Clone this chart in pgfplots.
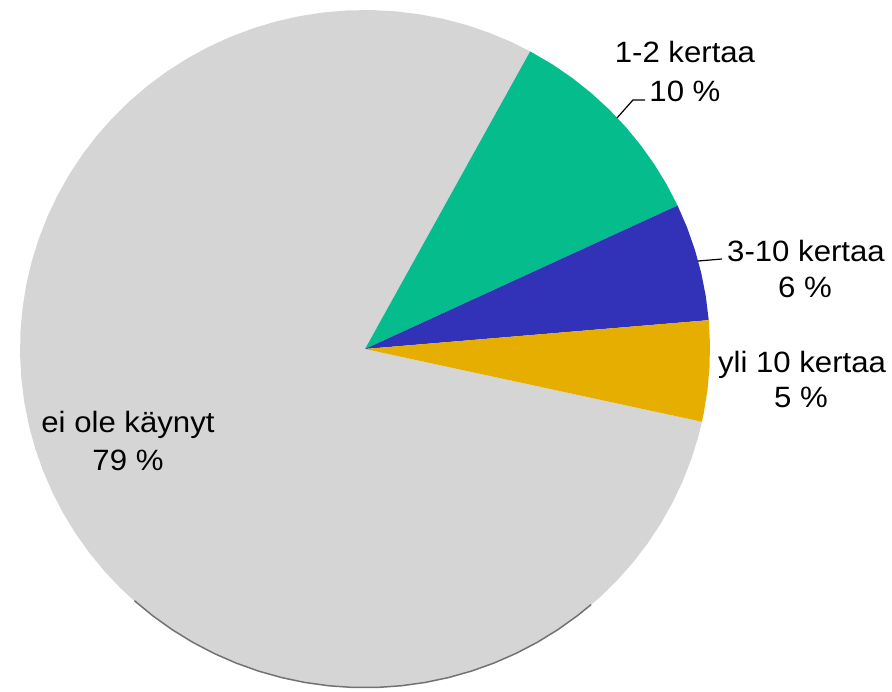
\documentclass[border=0pt]{standalone}
\usepackage{fontspec}
\setmainfont{Liberation Sans}[FakeStretch=1.06]
\usepackage{pgfplots}
\pgfplotsset{compat=1.18}
\definecolor{cgray}{RGB}{213,213,213}
\definecolor{cgreen}{RGB}{5,188,140}
\definecolor{cblue}{RGB}{50,50,185}
\definecolor{cgold}{RGB}{229,174,0}
\tikzset{lab/.style={anchor=base, inner sep=0pt, font=\fontsize{29.5}{36}\selectfont, text=black}}
\begin{document}
\begin{tikzpicture}
\begin{axis}[scale only axis, width=892bp, height=692bp,
  xmin=-1.0580, xmax=1.5275, ymin=-1.0118, ymax=1.0295,
  hide axis, clip=false]
% ei ole kaynyt 79.5 %
\addplot[data cs=polar, draw=none, fill=cgray] coordinates {
(0,0) (61.4,1) (65,1) (69,1) (73,1) (77,1) (81,1) (85,1) (89,1) (93,1) (97,1) (101,1)
(105,1) (109,1) (113,1) (117,1) (121,1) (125,1) (129,1) (133,1) (137,1) (141,1)
(145,1) (149,1) (153,1) (157,1) (161,1) (165,1) (169,1) (173,1) (177,1) (181,1)
(185,1) (189,1) (193,1) (197,1) (201,1) (205,1) (209,1) (213,1) (217,1) (221,1)
(225,1) (229,1) (233,1) (237,1) (241,1) (245,1) (249,1) (253,1) (257,1) (261,1)
(265,1) (269,1) (273,1) (277,1) (281,1) (285,1) (289,1) (293,1) (297,1) (301,1)
(305,1) (309,1) (313,1) (317,1) (321,1) (325,1) (329,1) (333,1) (337,1) (341,1)
(345,1) (347.6,1)};
% 1-2 kertaa 10.1 %
\addplot[data cs=polar, draw=none, fill=cgreen] coordinates {
(0,0) (61.4,1) (57,1) (53,1) (49,1) (45,1) (41,1) (37,1) (33,1) (29,1) (25.04,1)};
% 3-10 kertaa 5.6 %
\addplot[data cs=polar, draw=none, fill=cblue] coordinates {
(0,0) (25.04,1) (21,1) (17,1) (13,1) (9,1) (4.88,1)};
% yli 10 kertaa 4.8 %
\addplot[data cs=polar, draw=none, fill=cgold] coordinates {
(0,0) (4.88,1) (1,1) (-3,1) (-7,1) (-11,1) (-12.4,1)};
% shadow edge
\addplot[data cs=polar, draw=black!62, line width=1.5bp, opacity=0.85] coordinates {
(228,0.999) (232,0.999) (236,0.999) (240,0.999) (244,0.999) (248,0.999) (252,0.999)
(256,0.999) (260,0.999) (264,0.999) (268,0.999) (272,0.999) (276,0.999) (280,0.999)
(284,0.999) (288,0.999) (292,0.999) (296,0.999) (300,0.999) (304,0.999) (308,0.999) (311,0.999)};
% labels
\node[lab] at (axis description cs:0.7679,0.9090) {1-2 kertaa};
\node[lab] at (axis description cs:0.7679,0.8540) {10 \%};
\node[lab] at (axis description cs:0.9036,0.6214) {3-10 kertaa};
\node[lab] at (axis description cs:0.9025,0.5694) {6 \%};
\node[lab] at (axis description cs:0.8991,0.4624) {yli 10 kertaa};
\node[lab] at (axis description cs:0.8980,0.4118) {5 \%};
\node[lab] at (axis description cs:0.1435,0.3743) {ei ole käynyt};
\node[lab] at (axis description cs:0.1435,0.3194) {79 \%};
% leader lines
\draw[black, line width=1.2bp] (axis description cs:0.6917,0.8295) -- (axis description cs:0.7096,0.8555) -- (axis description cs:0.7231,0.8555);
\draw[black, line width=1.2bp] (axis description cs:0.7825,0.6228) -- (axis description cs:0.8094,0.6257);
\end{axis}
\path (current axis.south west) rectangle (current axis.north east);
\end{tikzpicture}
\end{document}
